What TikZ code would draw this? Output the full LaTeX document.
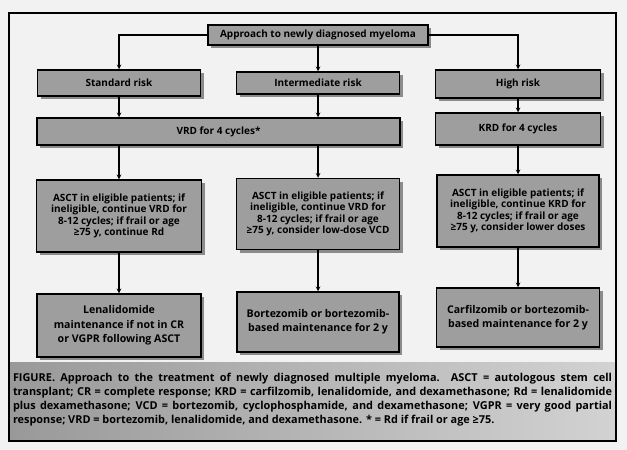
\documentclass[tikz,border=0pt]{standalone}
\usepackage{fontspec}
\setmainfont{Open Sans}
\usetikzlibrary{shadows}
\definecolor{boxgray}{gray}{0.62}

\begin{document}
\begin{tikzpicture}[x=1pt,y=-1pt]
	\tikzset{stepbox/.style={draw,line width=1.5pt,fill=boxgray,align=center,inner sep=1pt,
		font=\bfseries\fontsize{10}{11.5}\selectfont,drop shadow={shadow xshift=3pt,shadow yshift=-3pt,fill=black!85}}}
	\tikzset{bigbox/.style={stepbox,font=\bfseries\fontsize{10}{14}\selectfont}}
	\tikzset{mainbox/.style={stepbox,font=\bfseries\fontsize{10.6}{14.4}\selectfont}}
	\tikzset{flow/.style={line width=1.1pt,-stealth}}
	% paper, frame and caption band
	\fill[gray!10] (0,0) rectangle (627,450);
	\useasboundingbox (0,0) rectangle (627,450);
	\shade[left color=gray!80,right color=gray!35] (9,362) rectangle (616,441);
	\draw[line width=1.6pt] (9,13) rectangle (616,441);
	\node[text width=599pt,align=justify,font=\bfseries\fontsize{10.9}{14}\selectfont,inner sep=0pt] (caption) at (312.5,400)
		{FIGURE. Approach to the treatment of newly diagnosed multiple myeloma. ASCT = autologous stem cell\linebreak transplant; CR = complete response; KRD = carfilzomib, lenalidomide, and dexamethasone; Rd = lenalidomide\linebreak plus dexamethasone; VCD = bortezomib, cyclophosphamide, and dexamethasone; VGPR = very good partial\linebreak response; VRD = bortezomib, lenalidomide, and dexamethasone. * = Rd if frail or age ≥75.};
	% boxes
	\node[bigbox,minimum width=220pt,minimum height=20pt] (approach) at (318,35) {Approach to newly diagnosed myeloma};
	\node[bigbox,minimum width=163pt,minimum height=26pt] (std) at (119,83) {Standard risk};
	\node[bigbox,minimum width=163pt,minimum height=22pt] (inter) at (318,83) {Intermediate risk};
	\node[bigbox,minimum width=165pt,minimum height=28pt] (high) at (518,84) {High risk};
	\node[bigbox,minimum width=363pt,minimum height=27pt] (vrd) at (218.5,131.5) {VRD for 4 cycles*};
	\node[bigbox,minimum width=165pt,minimum height=32pt] (krd) at (518,129) {KRD for 4 cycles};
	\node[stepbox,minimum width=165pt,minimum height=72pt] (asctstd) at (119,216)
		{ASCT in eligible patients; if\\ineligible, continue VRD for\\8-12 cycles; if frail or age\\≥75 y, continue Rd};
	\node[stepbox,minimum width=163pt,minimum height=71pt] (asctint) at (318,214)
		{ASCT in eligible patients; if\\ineligible, continue VRD for\\8-12 cycles; if frail or age\\≥75 y, consider low-dose VCD};
	\node[stepbox,minimum width=162pt,minimum height=72pt] (euhigh) at (518,211)
		{ASCT in eligible patients; if\\ineligible, continue KRD for\\8-12 cycles; if frail or age\\≥75 y, consider lower doses};
	\node[mainbox,minimum width=164pt,minimum height=63pt] (mainstd) at (119,325.5)
		{Lenalidomide\\maintenance if not in CR\\or VGPR following ASCT};
	\node[mainbox,minimum width=162pt,minimum height=60pt] (mainint) at (318,322)
		{Bortezomib or bortezomib-\\based maintenance for 2 y};
	\node[mainbox,minimum width=163pt,minimum height=59pt] (mainhigh) at (518,317.5)
		{Carfilzomib or bortezomib-\\based maintenance for 2 y};
	% connectors
	\draw[flow] (approach.west) -| (std.north);
	\draw[flow] (approach.east) -| (high.north);
	\draw[flow] (approach.south) -- (inter.north);
	\draw[flow] (std.south) -- (std.south |- vrd.north);
	\draw[flow] (inter.south) -- (inter.south |- vrd.north);
	\draw[flow] (high.south) -- (krd.north);
	\draw[flow] (asctstd.north |- vrd.south) -- (asctstd.north);
	\draw[flow] (asctint.north |- vrd.south) -- (asctint.north);
	\draw[flow] (krd.south) -- (euhigh.north);
	\draw[flow] (asctstd.south) -- (mainstd.north);
	\draw[flow] (asctint.south) -- (mainint.north);
	\draw[flow] (euhigh.south) -- (mainhigh.north);
\end{tikzpicture}
\end{document}
